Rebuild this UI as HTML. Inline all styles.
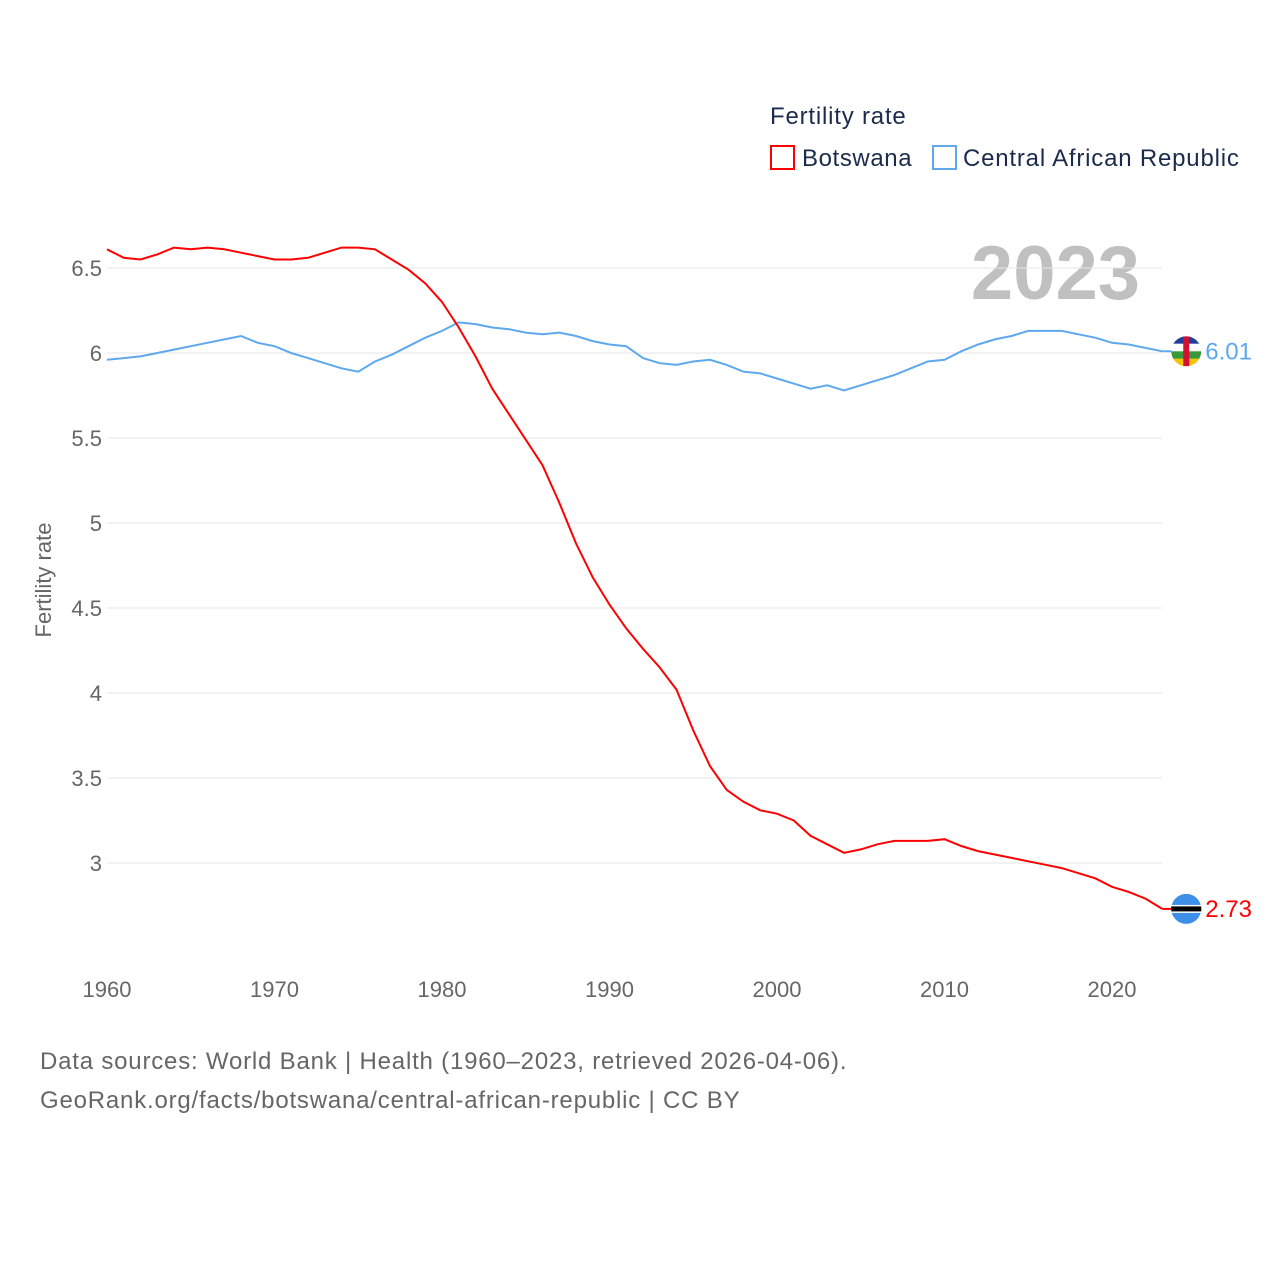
<!DOCTYPE html>
<html><head><meta charset="utf-8"><style>
body{margin:0;background:#fff;font-family:"Liberation Sans",sans-serif;}
svg text{font-family:"Liberation Sans",sans-serif;}
</style></head><body>
<svg id="chart" width="1280" height="1280" viewBox="0 0 1280 1280">
<text x="770" y="124" font-size="24" fill="#1a2b4c" letter-spacing="0.8">Fertility rate</text>
<g><rect x="771" y="146" width="23" height="23" fill="none" stroke="#f00" stroke-width="2"/><text x="802" y="166" font-size="24" fill="#1a2b4c" letter-spacing="0.6">Botswana</text></g>
<g><rect x="933" y="146" width="23" height="23" fill="none" stroke="#5ea8ee" stroke-width="2"/><text x="963" y="166" font-size="24" fill="#1a2b4c" letter-spacing="0.8">Central African Republic</text></g>
<text x="1140" y="299" font-size="76" font-weight="bold" fill="#c0c0c0" text-anchor="end">2023</text>
<g id="grid"></g><g id="yt"></g><g id="xt"></g>
<text transform="translate(51,580) rotate(-90)" font-size="22" fill="#666" text-anchor="middle">Fertility rate</text>
<g id="lines"></g>
<text x="40" y="1069" font-size="24" fill="#666" letter-spacing="0.8">Data sources: World Bank | Health (1960–2023, retrieved 2026-04-06).</text>
<text x="40" y="1108" font-size="24" fill="#666" letter-spacing="0.8">GeoRank.org/facts/botswana/central-african-republic | CC BY</text>
</svg>
<script>
const years=[];for(let y=1960;y<=2023;y++)years.push(y);
const botswana=[6.61,6.56,6.55,6.58,6.62,6.61,6.62,6.61,6.59,6.57,6.55,6.55,6.56,6.59,6.62,6.62,6.61,6.55,6.49,6.41,6.30,6.15,5.98,5.79,5.64,5.49,5.34,5.12,4.88,4.68,4.52,4.38,4.26,4.15,4.02,3.78,3.57,3.43,3.36,3.31,3.29,3.25,3.16,3.11,3.06,3.08,3.11,3.13,3.13,3.13,3.14,3.10,3.07,3.05,3.03,3.01,2.99,2.97,2.94,2.91,2.86,2.83,2.79,2.73];
const car=[5.96,5.97,5.98,6.00,6.02,6.04,6.06,6.08,6.10,6.06,6.04,6.00,5.97,5.94,5.91,5.89,5.95,5.99,6.04,6.09,6.13,6.18,6.17,6.15,6.14,6.12,6.11,6.12,6.10,6.07,6.05,6.04,5.97,5.94,5.93,5.95,5.96,5.93,5.89,5.88,5.85,5.82,5.79,5.81,5.78,5.81,5.84,5.87,5.91,5.95,5.96,6.01,6.05,6.08,6.10,6.13,6.13,6.13,6.11,6.09,6.06,6.05,6.03,6.01];
const yTicks=[3,3.5,4,4.5,5,5.5,6,6.5];
const xTicks=[1960,1970,1980,1990,2000,2010,2020];
const X=y=>107+(y-1960)*16.75, Y=v=>863-(v-3)*170;
const NS="http://www.w3.org/2000/svg";
function mk(t,a,p){const e=document.createElementNS(NS,t);for(const k in a)e.setAttribute(k,a[k]);p.appendChild(e);return e;}
const g=document.getElementById('grid'),yt=document.getElementById('yt'),xt=document.getElementById('xt'),L=document.getElementById('lines');
yTicks.forEach(v=>{const l=mk('line',{x1:107,x2:1162,y1:Y(v),y2:Y(v),stroke:'#e6e6e6','stroke-width':1},g);


const t=mk('text',{x:102,y:Y(v)+8,'font-size':22,fill:'#666','text-anchor':'end'},yt);t.textContent=String(v);

});
xTicks.forEach(v=>{const t=mk('text',{x:X(v),y:997,'font-size':22,fill:'#666','text-anchor':'middle'},xt);t.textContent=v;

});
function line(d,c,name){const p=mk('polyline',{points:d.map((v,i)=>X(years[i])+','+Y(v)).join(' '),fill:'none',stroke:c,'stroke-width':2},L);

}
line(car,'#5ea8ee','line-car');line(botswana,'#f00','line-botswana');
function end(d,c,name,flag){const v=d[d.length-1],x=X(2023),y=Y(v);
mk('line',{x1:x,x2:x+10,y1:y,y2:y,stroke:c,'stroke-width':2},L);
const fg=mk('g',{},L);
const cx=x+24;
if(flag==='bw'){mk('circle',{cx:cx,cy:y,r:15,fill:'#3d8fe8'},fg);mk('rect',{x:cx-15,y:y-4,width:30,height:8,fill:'#fff'},fg);mk('rect',{x:cx-15,y:y-2.5,width:30,height:5,fill:'#000'},fg);}
else{const cp=mk('clipPath',{id:'cc'},fg);mk('circle',{cx:cx,cy:y,r:15},cp);const h=mk('g',{'clip-path':'url(#cc)'},fg);
['#1f3f9a','#fff','#3a9a3a','#f5c400'].forEach((col,i)=>mk('rect',{x:cx-15,y:y-15+i*7.5,width:30,height:7.5,fill:col},h));
mk('rect',{x:cx-3,y:y-15,width:6,height:30,fill:'#d21034'},h);}
const t=mk('text',{x:x+43,y:y+8,'font-size':24,fill:c},L);t.textContent=v.toFixed(2);

}
end(car,'#5ea8ee','car','car');end(botswana,'#f00','botswana','bw');
</script>
</body></html>
